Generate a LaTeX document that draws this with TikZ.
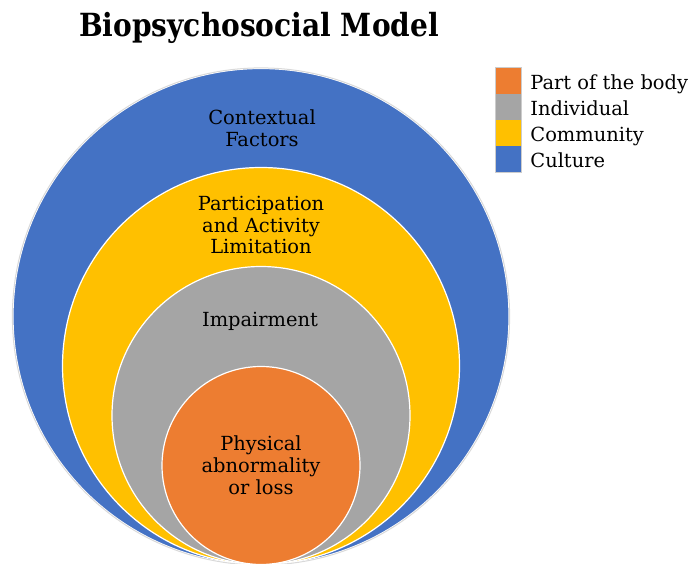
\documentclass[tikz,border=0pt]{standalone}
\usepackage{fontspec}
\setmainfont{DejaVu Serif}
\usetikzlibrary{positioning}

\definecolor{corange}{HTML}{ED7D31}
\definecolor{cgray}{HTML}{A5A5A5}
\definecolor{cyellow}{HTML}{FFC000}
\definecolor{cblue}{HTML}{4472C4}

\begin{document}
\begin{tikzpicture}[
    x=1bp,
    y=-1bp,
    ring/.style ={
        circle,
        draw=white,
        line width=1.2bp,
        inner sep=0pt
    },
    lbl/.style ={
        align=center,
        font=\fontsize{19.5}{22}\selectfont
    },
    key/.style ={
        minimum width=25bp,
        minimum height=26bp,
        inner sep=0pt
    },
    ktext/.style ={
        inner sep=0pt,
        text height=14bp,
        text depth=4bp,
        font=\fontsize{19.5}{22}\selectfont
    }
    ]
    \useasboundingbox (0,0) rectangle (693,564);

    \node[xscale=0.88, font=\bfseries\fontsize{32}{38}\selectfont] (title) at (259,27.5) {Biopsychosocial Model};

    % nested circles, all touching at the bottom
    \foreach \name/ \col/ \d/ \y in {{culture/cblue/496/316.5}, {community/cyellow/397/366}, {individual/cgray/298/415.5}, {body/corange/198/465.5}}
        \node[ring, fill=\col, minimum size=\d bp] (\name) at (261,\y) {};
    \draw[black!15, line width=1bp] (culture) circle (248.6);

    \node[lbl] (tculture) at (262,128) {Contextual\\Factors};
    \node[lbl] (tcommunity) at (261,225) {Participation\\and Activity\\Limitation};
    \node[lbl] (tindividual) at (260,321) {Impairment};
    \node[lbl] (tbody) at (261,465) {Physical\\abnormality\\or loss};

    % legend
    \foreach \name/ \col/ \txt/ \y in {{kbody/corange/Part of the body/81}, {kindividual/cgray/Individual/107}, {kcommunity/cyellow/Community/133}, {kculture/cblue/Culture/159}}{
        \node[key, fill=\col] (\name) at (508.5,\y) {};
        \node[ktext, right=9bp of \name, yshift=-3.5bp] (t\name) {\txt};
    }
    \draw[black!20, line width=1.2bp] (kbody.north west) rectangle (kculture.south east);

\end{tikzpicture}
\end{document}
